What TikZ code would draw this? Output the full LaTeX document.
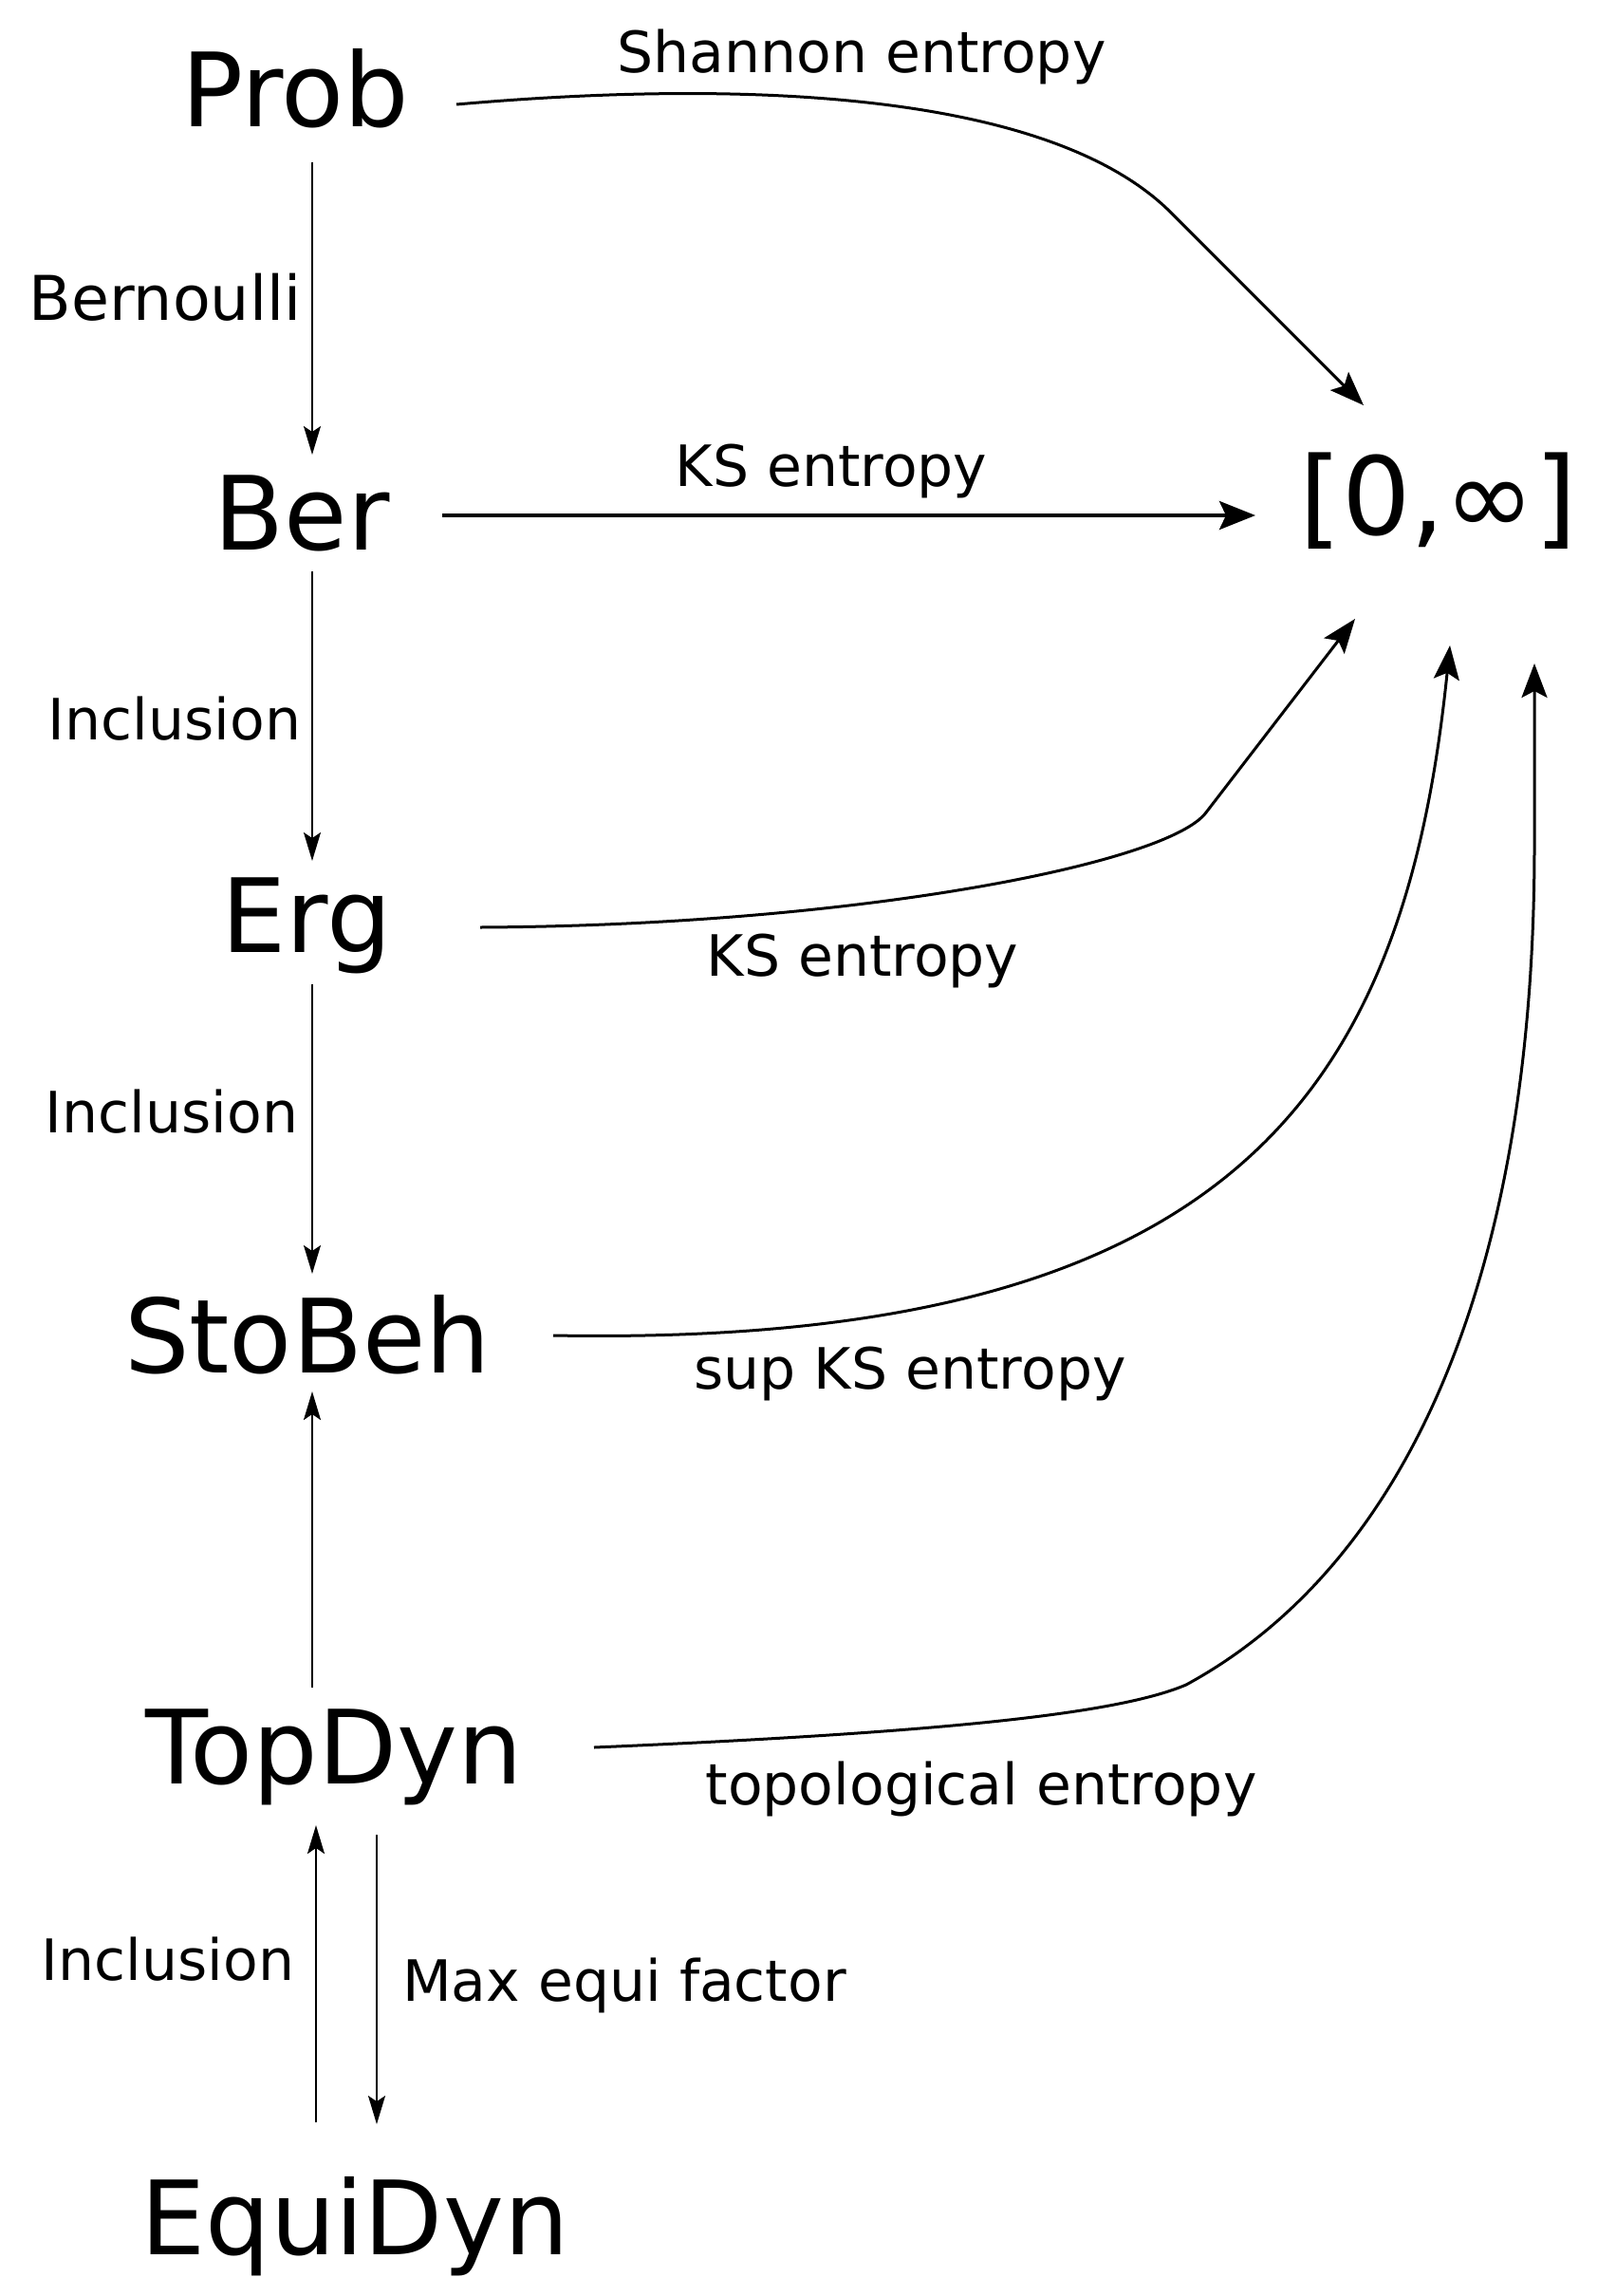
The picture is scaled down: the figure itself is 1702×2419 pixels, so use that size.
\documentclass[tikz,border=0pt]{standalone}
\usepackage{fontspec}
\setmainfont{DejaVu Sans}
\usetikzlibrary{arrows.meta}
\begin{document}
\begin{tikzpicture}[x=1pt,y=-1pt,
  obj/.style={font=\fontsize{108}{114}\selectfont, anchor=base, inner sep=0pt},
  lbl/.style={font=\fontsize{60}{66}\selectfont, anchor=base, inner sep=0pt},
  varrow/.style={line width=2pt, -{Stealth[length=30pt,width=18pt,inset=6pt]}},
  carrow/.style={line width=3pt, -{Stealth[length=36pt,width=27pt,inset=7pt]}},
  sarrow/.style={line width=4pt, -{Stealth[length=38pt,width=30pt,inset=7pt]}}]
\fill[white] (0,0) rectangle (1702,2419);
\useasboundingbox (0,0) rectangle (1702,2419);
% objects
\node[obj] (Prob) at (311,134) {Prob};
\node[obj] (Ber) at (318,579) {Ber};
\node[obj] (Erg) at (323,1003) {Erg};
\node[obj] (StoBeh) at (324,1446) {StoBeh};
\node[obj] (TopDyn) at (352,1879) {TopDyn};
\node[obj] (EquiDyn) at (374,2375) {EquiDyn};
\node[obj, font=\fontsize{114}{120}\selectfont] (Z) at (1516,563) {[0,∞]};
% labels
\node[lbl] (lShannon) at (908,77) {Shannon entropy};
\node[lbl, font=\fontsize{65}{70}\selectfont] (lBern) at (174,337) {Bernoulli};
\node[lbl] (lInc1) at (184,779) {Inclusion};
\node[lbl] (lInc2) at (181,1193) {Inclusion};
\node[lbl] (lInc3) at (177,2086) {Inclusion};
\node[lbl] (lMax) at (658,2108) {Max equi factor};
\node[lbl] (lKS1) at (876,512) {KS entropy};
\node[lbl] (lKS2) at (909,1028) {KS entropy};
\node[lbl] (lSup) at (959,1463) {sup KS entropy};
\node[lbl] (lTop) at (1034,1901) {topological entropy};
% vertical arrows
\draw[varrow] ([shift={(18,37)}]Prob.base) -- ([shift={(11,-100)}]Ber.base);
\draw[varrow] ([shift={(11,23)}]Ber.base) -- ([shift={(6,-96)}]Erg.base);
\draw[varrow] ([shift={(6,34)}]Erg.base) -- ([shift={(5,-104)}]StoBeh.base);
\draw[varrow] ([shift={(-23,-101)}]TopDyn.base) -- ([shift={(5,20)}]StoBeh.base);
\draw[varrow] ([shift={(-41,-139)}]EquiDyn.base) -- ([shift={(-19,44)}]TopDyn.base);
\draw[varrow] ([shift={(45,54)}]TopDyn.base) -- ([shift={(23,-137)}]EquiDyn.base);
% arrows to [0,inf]
\draw[sarrow] ([shift={(148,-36)}]Ber.base) -- ([shift={(-193,-20)}]Z.base);
\draw[carrow] ([shift={(170,-24)}]Prob.base) .. controls (800,82) and (1110,100) .. (1234,224) -- ([shift={(-79,-136)}]Z.base);
\draw[carrow] ([shift={(183,-26)}]Erg.base) .. controls (900,975) and (1231,910) .. (1271,856) -- ([shift={(-88,89)}]Z.base);
\draw[carrow] ([shift={(259,-39)}]StoBeh.base) .. controls (1300,1420) and (1480,1150) .. ([shift={(12,117)}]Z.base);
\draw[carrow] ([shift={(274,-38)}]TopDyn.base) .. controls (1000,1825) and (1180,1805) .. (1250,1775) .. controls (1480,1650) and (1617,1350) .. (1617,891) -- ([shift={(101,136)}]Z.base);
\end{tikzpicture}
\end{document}
